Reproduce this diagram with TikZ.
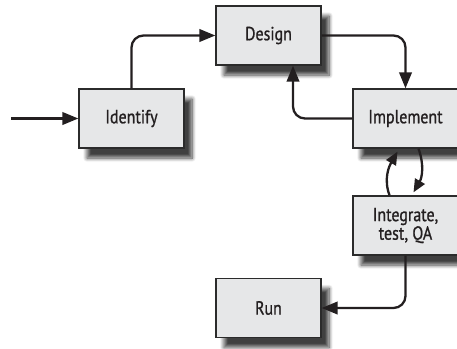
\documentclass[tikz,border=0pt]{standalone}
\usepackage{fontspec}
\setmainfont{PT Sans}[FakeStretch=0.84,FakeBold=0.9]
\usetikzlibrary{arrows.meta,shadows.blur}
\definecolor{boxfill}{HTML}{E6E7E8}
\definecolor{boxline}{HTML}{2B2B2B}
\definecolor{ink}{HTML}{231F20}
\tikzset{
  stepbox/.style={draw=boxline, line width=1.3pt, fill=boxfill,
    minimum width=105pt, minimum height=59pt, inner sep=2pt,
    align=center, text=ink, font=\fontsize{19}{16}\selectfont,
    blur shadow={shadow xshift=8pt, shadow yshift=-10pt,
      shadow blur radius=4pt, shadow blur steps=8, shadow opacity=75}},
  flow/.style={draw=ink, line width=2.3pt, rounded corners=12pt,
    -{Triangle[length=16pt,width=12.5pt]}},
  loopar/.style={draw=ink, line width=2.3pt,
    -{Triangle[length=13pt,width=11pt]}}
}
\begin{document}
\begin{tikzpicture}[x=1pt,y=-1pt]
\useasboundingbox (0,0) rectangle (457,348);
\node[stepbox] (design) at (268.5,35.5) {Design};
\node[stepbox] (ident) at (131.5,118.5) {Identify};
\node[stepbox] (impl) at (405.5,118.5) {Implement};
\node[stepbox] (integ) at (405.5,225.5) {Integrate,\\test, QA};
\node[stepbox] (run) at (268.5,308) {Run};
\coordinate (start) at (11,118.5);
\draw[flow] (start) -- (ident.west);
\draw[flow] (ident.north) |- (design.west);
\draw[flow] (design.east) -| (impl.north);
\draw[flow] (impl.west) -| ([xshift=24.5pt]design.south);
\draw[flow] (integ.south) |- (run.east);
\draw[loopar] ([xshift=-16pt]integ.north) to[out=110,in=240] ([xshift=-8pt,yshift=-3pt]impl.south);
\draw[loopar] ([xshift=13pt]impl.south) to[out=-70,in=60] ([xshift=8pt,yshift=3pt]integ.north);
\end{tikzpicture}
\end{document}
